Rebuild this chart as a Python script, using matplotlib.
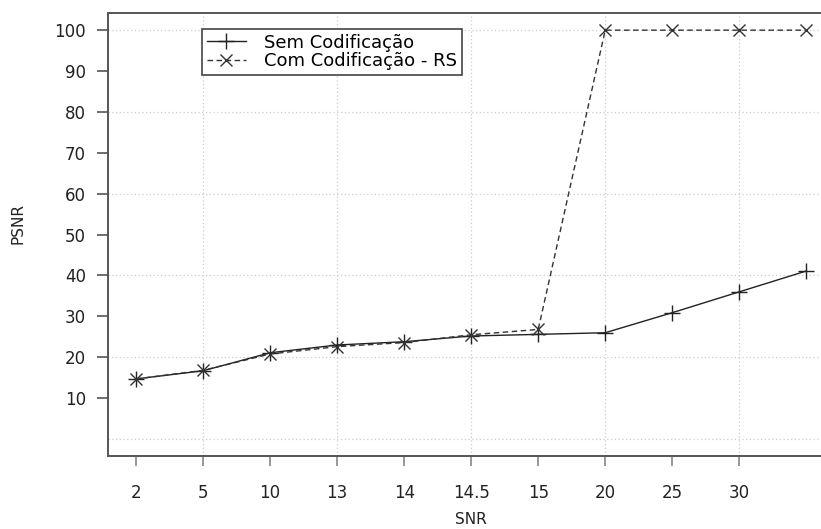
import matplotlib
matplotlib.use('Agg')
import matplotlib.pyplot as plt

snr_labels = ["2", "5", "10", "13", "14", "14.5", "15", "20", "25", "30", ""]
sem_cod = [14.7, 16.7, 21.1, 23.0, 23.8, 25.2, 25.6, 26.0, 30.9, 36.0, 41.1]
com_cod_rs = [14.7, 16.8, 20.8, 22.6, 23.6, 25.5, 26.8, 100, 100, 100, 100]
y_ticks = [10, 20, 30, 40, 50, 60, 70, 80, 90, 100]
y_grid = [0, 20, 40, 60, 80, 100]

plt.rcParams['font.family'] = ['DejaVu Sans']

fig = plt.figure(figsize=(8.21, 5.29), dpi=100)
ax = fig.add_axes([108 / 821, 73 / 529, 1 - 108 / 821, 443 / 529])

x = list(range(len(snr_labels)))

# dotted grid, every other category + every 20 units
for i in x[1::2]:
    ax.axvline(i, color='#cccccc', lw=0.9, ls=(0, (1, 2)), zorder=0)
for g in y_grid:
    ax.axhline(g, color='#cccccc', lw=0.9, ls=(0, (1, 2)), zorder=0)

ax.plot(x, sem_cod, color='#222222', lw=1.0, marker='+', ms=11, mew=1.0,
        label='Sem Codificação')
ax.plot(x, com_cod_rs, color='#333333', lw=1.0, ls=(0, (4, 2.5)), marker='x',
        ms=8, mew=1.0, label='Com Codificação - RS')

ax.set_xlim(-0.42, 10.22)
ax.set_ylim(-4.15, 104.2)
ax.set_xticks(x[:-1])
ax.set_xticklabels(snr_labels[:-1])
ax.set_yticks(y_ticks)

ax.spines['right'].set_visible(False)
for s in ['left', 'top', 'bottom']:
    ax.spines[s].set_color('#555555')
    ax.spines[s].set_linewidth(1.4)

ax.tick_params(axis='x', length=7, width=1.2, color='#888888', pad=13,
               labelsize=12, labelcolor='#222222')
ax.tick_params(axis='y', length=8, width=1.2, color='#555555', pad=8,
               labelsize=12, labelcolor='#222222')

ax.set_xlabel('SNR', fontsize=11, color='#222222', va='center')
ax.xaxis.set_label_coords(5.42 / 10.64, -(520 - 456) / 443)
ax.set_ylabel('PSNR', fontsize=11, color='#222222', va='center')
ax.yaxis.set_label_coords(-(108 - 18) / 713, (456 - 223) / 443)

leg = ax.legend(loc='upper left', bbox_to_anchor=(202 / 821, 1 - 29 / 529),
                bbox_transform=fig.transFigure, fontsize=13, frameon=True,
                fancybox=False, framealpha=1, edgecolor='#444444',
                borderpad=0.25, labelspacing=0.05, handlelength=2.2,
                handletextpad=1.0, borderaxespad=0)
leg.get_frame().set_linewidth(1.2)

plt.savefig('out.png', dpi=100)
